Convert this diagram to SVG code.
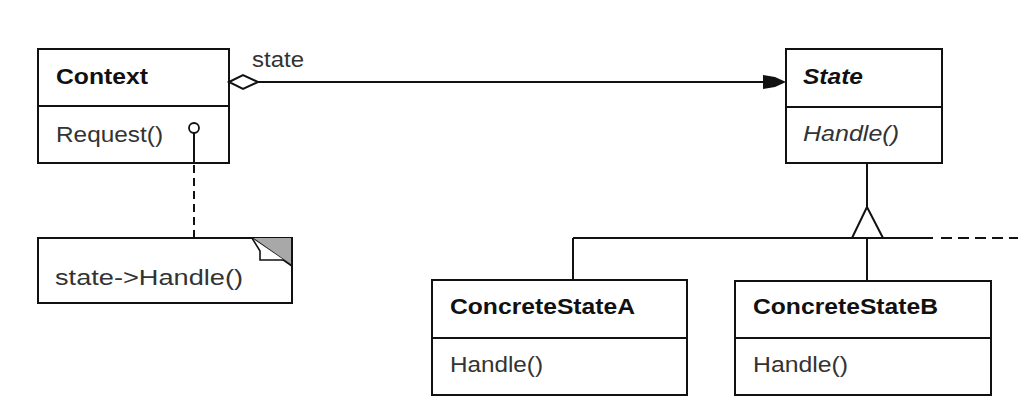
<svg xmlns="http://www.w3.org/2000/svg" width="1035" height="405" viewBox="0 0 1035 405">
<style>
.box{fill:#fff;stroke:#111;stroke-width:2}
.ln{fill:none;stroke:#111;stroke-width:2}
.t{font-family:"Liberation Sans",Arial,sans-serif;font-size:22px;fill:#333}
.b{font-weight:bold;fill:#111}
.i{font-style:italic}
</style>
<rect width="1035" height="405" fill="#fff"/>
<g id="context">
  <rect class="box" x="38" y="49" width="191" height="114"/>
  <line class="ln" x1="38" y1="106" x2="229" y2="106"/>
  <text class="t b" x="56" y="84" textLength="92" lengthAdjust="spacingAndGlyphs">Context</text>
  <text class="t" x="56" y="142" textLength="107" lengthAdjust="spacingAndGlyphs">Request()</text>
</g>
<g id="state">
  <rect class="box" x="786" y="49" width="156" height="114"/>
  <line class="ln" x1="786" y1="107" x2="942" y2="107"/>
  <text class="t b i" x="803" y="84" textLength="60" lengthAdjust="spacingAndGlyphs">State</text>
  <text class="t i" x="803" y="141" textLength="96" lengthAdjust="spacingAndGlyphs">Handle()</text>
</g>
<g id="note">
  <rect class="box" x="38" y="238" width="254" height="65"/>
  <polygon points="252,238 292,238 292,266" fill="#a8a8a8"/>
  <line x1="252" y1="238" x2="292" y2="266" stroke="#111" stroke-width="1.8"/>
  <polyline points="252,238 260,251 260,260 284,260" fill="#fff" stroke="#111" stroke-width="1.6"/>
  <line class="ln" x1="292" y1="238" x2="292" y2="303"/>
  <text class="t" x="55" y="285" textLength="188" lengthAdjust="spacingAndGlyphs">state-&gt;Handle()</text>
</g>
<g id="concreteStateA">
  <rect class="box" x="432" y="280" width="255" height="115"/>
  <line class="ln" x1="432" y1="338" x2="687" y2="338"/>
  <text class="t b" x="450" y="314" textLength="185" lengthAdjust="spacingAndGlyphs">ConcreteStateA</text>
  <text class="t" x="450" y="372" textLength="93" lengthAdjust="spacingAndGlyphs">Handle()</text>
</g>
<g id="concreteStateB">
  <rect class="box" x="735" y="281" width="256" height="114"/>
  <line class="ln" x1="735" y1="338" x2="991" y2="338"/>
  <text class="t b" x="753" y="314" textLength="185" lengthAdjust="spacingAndGlyphs">ConcreteStateB</text>
  <text class="t" x="753" y="372" textLength="95" lengthAdjust="spacingAndGlyphs">Handle()</text>
</g>
<g id="connectors">
  <line class="ln" x1="258" y1="82" x2="766" y2="82"/>
  <polygon points="229,82 243,75 258,82 243,89" fill="#fff" stroke="#111" stroke-width="2"/>
  <polygon points="763,75 775,77 786,82 775,87 763,89" fill="#111"/>
  <text class="t" x="252" y="67" textLength="52" lengthAdjust="spacingAndGlyphs">state</text>
  <line class="ln" x1="194" y1="133" x2="194" y2="163"/>
  <circle cx="194" cy="128" r="5" fill="#fff" stroke="#111" stroke-width="1.8"/>
  <line class="ln" x1="194" y1="165" x2="194" y2="238" stroke-dasharray="8,5"/>
  <line class="ln" x1="867" y1="163" x2="867" y2="207"/>
  <polygon points="867,207 852,238 883,238" fill="#fff" stroke="#111" stroke-width="2"/>
  <line class="ln" x1="573" y1="238" x2="933" y2="238"/>
  <line class="ln" x1="941" y1="238" x2="1018" y2="238" stroke-dasharray="11,6"/>
  <line class="ln" x1="573" y1="238" x2="573" y2="280"/>
  <line class="ln" x1="867" y1="238" x2="867" y2="281"/>
</g>
</svg>
